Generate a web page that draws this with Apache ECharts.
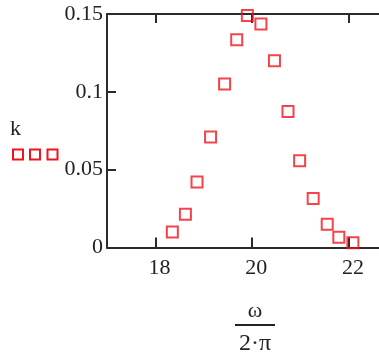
<!DOCTYPE html>
<html>
<head>
<meta charset="utf-8">
<script src="https://cdn.jsdelivr.net/npm/echarts@6/dist/echarts.min.js"></script>
<style>
  html, body { margin: 0; padding: 0; background: #fff; }
  #chart { width: 379px; height: 356px; background: #fff; }
</style>
</head>
<body>
<div id="chart"></div>
<script>
// Normalised frequency ω/(2π) and the coefficient k at each sample
const freq = [18.35, 18.62, 18.86, 19.14, 19.43, 19.68, 19.90, 20.18, 20.46, 20.74, 20.98, 21.26, 21.55, 21.79, 22.08];
const kVals = [0.010, 0.0214, 0.042, 0.071, 0.105, 0.1335, 0.149, 0.1436, 0.120, 0.0873, 0.0558, 0.0314, 0.0149, 0.0066, 0.0031];
const xTicks = [18, 20, 22];
const yTicks = [0, 0.05, 0.1, 0.15];

const X_MIN = 17, X_MAX = 22.62, Y_MIN = 0, Y_MAX = 0.15;
const points = freq.map((f, i) => [f, kVals[i]]);
const serif = '"Liberation Serif", serif';
const axisColor = '#2b2b2b';
const textColor = '#222';
const red = '#f0141e';

const chart = echarts.init(document.getElementById('chart'));
chart.setOption({
  animation: false,
  grid: { left: 107, top: 14, right: 0, bottom: 108.5 },
  xAxis: [
    {
      type: 'value', min: X_MIN, max: X_MAX,
      axisLine: { show: true, onZero: false, lineStyle: { color: axisColor, width: 2 } },
      axisTick: { show: true, inside: true, length: 10, customValues: xTicks, lineStyle: { color: axisColor, width: 2 } },
      axisLabel: { customValues: xTicks, color: textColor, fontFamily: serif, fontSize: 22, margin: 10,
        padding: [0, 0, 0, 8] },
      splitLine: { show: false }
    },
    {
      type: 'value', position: 'top', min: X_MIN, max: X_MAX,
      axisLine: { show: true, onZero: false, lineStyle: { color: axisColor, width: 2 } },
      axisTick: { show: true, inside: true, length: 9, customValues: xTicks, lineStyle: { color: axisColor, width: 2 } },
      axisLabel: { show: false, customValues: xTicks },
      splitLine: { show: false }
    }
  ],
  yAxis: {
    type: 'value', min: Y_MIN, max: Y_MAX, interval: 0.05,
    axisLine: { show: true, onZero: false, lineStyle: { color: axisColor, width: 2 } },
    axisTick: { show: true, inside: true, length: 9, lineStyle: { color: axisColor, width: 2 } },
    axisLabel: {
      color: textColor, fontFamily: serif, fontSize: 22, margin: 4,
      formatter: v => yTicks.includes(+v.toFixed(2)) ? String(+v.toFixed(2)) : ''
    },
    splitLine: { show: false }
  },
  series: [{
    type: 'scatter',
    xAxisIndex: 0,
    data: points,
    symbol: 'rect',
    symbolSize: 11,
    itemStyle: { color: 'rgba(255,255,255,0)', borderColor: red, borderWidth: 2 },
    z: 5
  }],
  graphic: [
    // y caption with its marker sample
    { type: 'text', left: 10, top: 118, style: { text: 'k', font: '22px ' + serif, fill: textColor } },
    { type: 'rect', shape: { x: 13, y: 149.5, width: 10, height: 10 }, style: { fill: 'none', stroke: red, lineWidth: 2 } },
    { type: 'rect', shape: { x: 30, y: 149.5, width: 10, height: 10 }, style: { fill: 'none', stroke: red, lineWidth: 2 } },
    { type: 'rect', shape: { x: 47.5, y: 149.5, width: 10, height: 10 }, style: { fill: 'none', stroke: red, lineWidth: 2 } },
    // x caption as the fraction ω / 2·π
    { type: 'text', x: 255, y: 311, style: { text: 'ω', font: '22px ' + serif, fill: textColor, align: 'center', verticalAlign: 'middle' } },
    { type: 'line', shape: { x1: 235, y1: 325, x2: 275, y2: 325 }, style: { stroke: textColor, lineWidth: 1.8 } },
    { type: 'text', x: 255, y: 344, style: { text: '2·π', font: '24px ' + serif, fill: textColor, align: 'center', verticalAlign: 'middle' } }
  ]
});
</script>
</body>
</html>
